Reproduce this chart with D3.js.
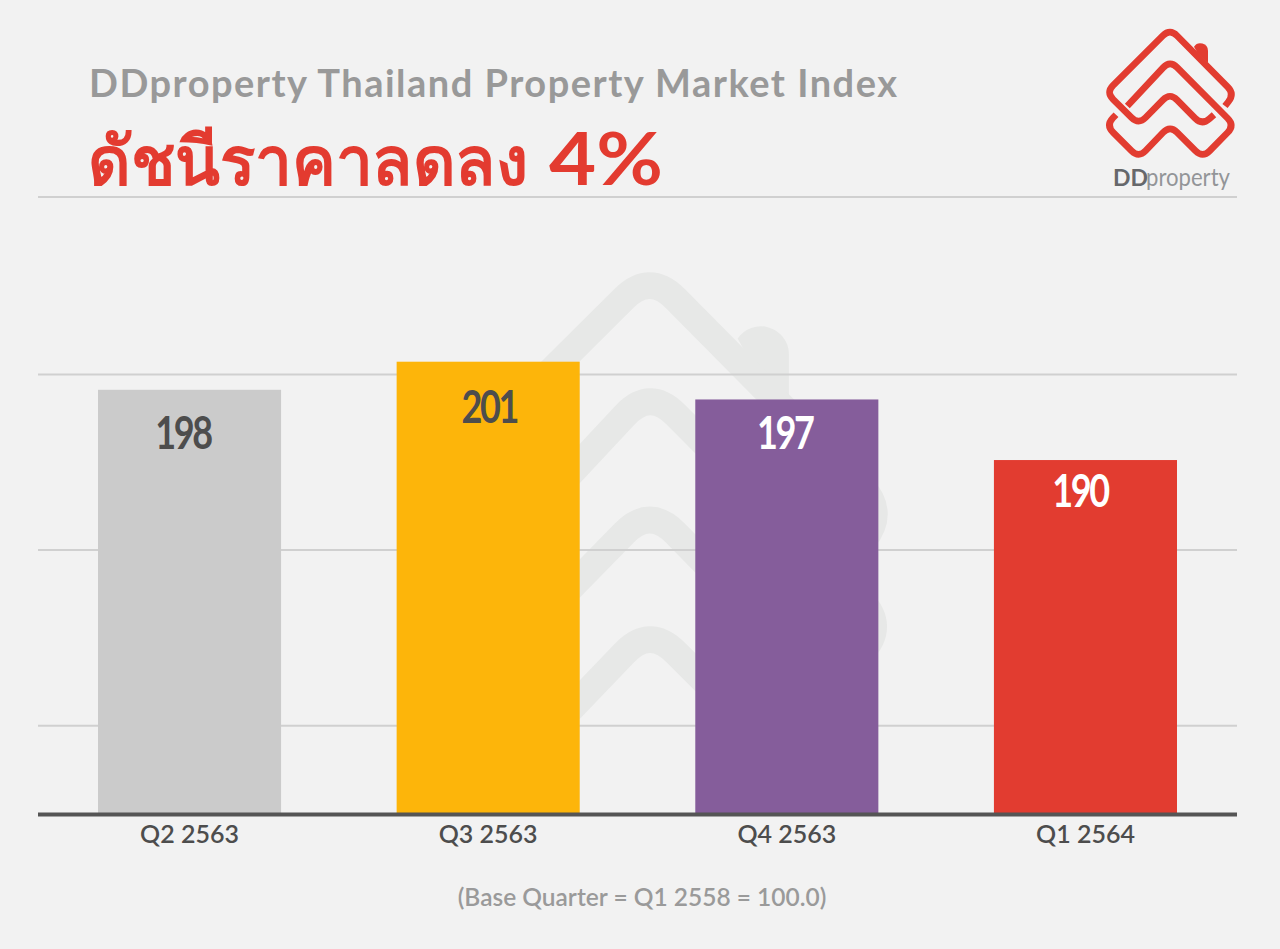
<!DOCTYPE html>
<html><head><meta charset="utf-8">
<script src="https://cdnjs.cloudflare.com/ajax/libs/d3/7.8.5/d3.min.js"></script>
<style>html,body{margin:0;padding:0;background:#f2f2f2}svg{display:block}
text{font-family:Lato,"Noto Sans",sans-serif}</style></head><body>
<svg id="c" width="1280" height="949"></svg>
<script>
const categories=["Q2 2563","Q3 2563","Q4 2563","Q1 2564"];
const values=[198.2,201.4,197.1,190.2];
const colors=["#cbcbcb","#fdb50a","#855d9b","#e23c30"];
const labelColors=["#4d4d4d","#4d4d4d","#ffffff","#ffffff"];
const gridTicks=[160,180,200];
const titleText="DDproperty Thailand Property Market Index";
const headlineThai="ดัชนีราคาลดลง";
const headlinePct="4%";
const footnote="(Base Quarter = Q1 2558 = 100.0)";

const svg=d3.select("#c");
svg.append("rect").attr("width",1280).attr("height",949).attr("fill","#f2f2f2");

const x=d3.scaleBand().domain(categories).range([98,1177]).paddingInner(0.387).paddingOuter(0);
const y=d3.scaleLinear().domain([150,200]).range([813,374]);

function rounded(pts,r){
  let d=`M${pts[0]}`;
  for(let i=1;i<pts.length-1;i++){
    const [p0,p1,p2]=[pts[i-1],pts[i],pts[i+1]];
    const a=Math.atan2(p0[1]-p1[1],p0[0]-p1[0]),b=Math.atan2(p2[1]-p1[1],p2[0]-p1[0]);
    d+=`L${p1[0]+r*Math.cos(a)},${p1[1]+r*Math.sin(a)}Q${p1[0]},${p1[1]} ${p1[0]+r*Math.cos(b)},${p1[1]+r*Math.sin(b)}`;
  }
  return d+`L${pts[pts.length-1]}`;
}
const logoA=[[405,258],[434,222],[240,26],[48,217],[146,314],[240,218],[336,316],[372,284]];
const logoB=[[112,258],[240,121],[434,316],[338,414],[240,316],[146,414],[48,316],[78,284]];
function drawLogo(tf,color,sw){
  const g=svg.append("g").attr("transform",tf);
  g.append("path").attr("d","M312,80A23,23 0 0 1 354,92L354,128L322,98Z").attr("fill",color);
  [logoA,logoB].forEach(p=>g.append("path").attr("d",rounded(p,30))
    .attr("fill","none").attr("stroke",color).attr("stroke-width",sw));
}
drawLogo("translate(357,241) scale(1.22)","#e7e8e7",22);

const gridAxis=d3.axisLeft(y).tickValues(gridTicks).tickSize(-1199).tickFormat("");
svg.append("g").attr("transform","translate(38,0)").call(gridAxis)
  .call(g=>g.select(".domain").remove())
  .selectAll("line").attr("stroke","#d0d0d0").attr("stroke-width",2);

svg.selectAll("rect.bar").data(values).join("rect").attr("class","bar")
  .attr("x",(d,i)=>x(categories[i])).attr("width",x.bandwidth())
  .attr("y",d=>y(d)).attr("height",d=>y(150)-y(d))
  .attr("fill",(d,i)=>colors[i]);

// value labels: small per-bar nudges follow the reference's hand placement
const nudgeX=[-6.5,1,-2,-5.5], nudgeY=[59,61,50,47];
svg.selectAll("text.val").data(values).join("text").attr("class","val")
  .attr("transform",(d,i)=>`translate(${x(categories[i])+x.bandwidth()/2+nudgeX[i]},${y(d)+nudgeY[i]}) scale(0.8,1)`)
  .attr("text-anchor","middle")
  .attr("font-size",45).attr("font-weight",700).attr("letter-spacing",-3)
  .attr("fill",(d,i)=>labelColors[i]).text(d=>d3.format(".0f")(d));

const xAxis=d3.axisBottom(x).tickSize(0).tickPadding(11);
svg.append("g").attr("transform","translate(0,814.5)").call(xAxis)
  .call(g=>g.select(".domain").remove())
  .selectAll("text").attr("font-family","Lato").attr("font-size",25).attr("font-weight",600).attr("fill","#4d4d4d");
svg.append("line").attr("x1",38).attr("x2",1237).attr("y1",814.5).attr("y2",814.5)
  .attr("stroke","#555555").attr("stroke-width",4);

svg.append("line").attr("x1",38).attr("x2",1237).attr("y1",197).attr("y2",197)
  .attr("stroke","#d0d0d0").attr("stroke-width",2);
svg.append("text").attr("x",89).attr("y",97).attr("font-size",38).attr("font-weight",700)
  .attr("fill","#999999").attr("textLength",808).attr("lengthAdjust","spacing").text(titleText);
svg.append("text").attr("x",88).attr("y",185).attr("font-size",68).attr("font-weight",700)
  .attr("font-family","'Noto Sans','DejaVu Sans',sans-serif")
  .attr("fill","#e33b30").attr("textLength",440).attr("lengthAdjust","spacingAndGlyphs").text(headlineThai);
svg.append("text").attr("x",549).attr("y",185).attr("font-size",72).attr("font-weight",700)
  .attr("fill","#e33b30").attr("textLength",114).attr("lengthAdjust","spacingAndGlyphs").text(headlinePct);
svg.append("text").attr("x",642).attr("y",906).attr("text-anchor","middle").attr("font-size",24.5)
  .attr("font-weight",600).attr("fill","#9a9a9a").text(footnote);

drawLogo("translate(1090,20) scale(0.3333)","#e23c30",20);
svg.append("text").attr("x",1113).attr("y",186).attr("font-size",23).attr("font-weight",700).attr("fill","#66686b").text("DD");
svg.append("text").attr("x",1146).attr("y",186).attr("font-size",25).attr("fill","#939598")
  .attr("textLength",84).attr("lengthAdjust","spacingAndGlyphs").text("property");
</script></body></html>
